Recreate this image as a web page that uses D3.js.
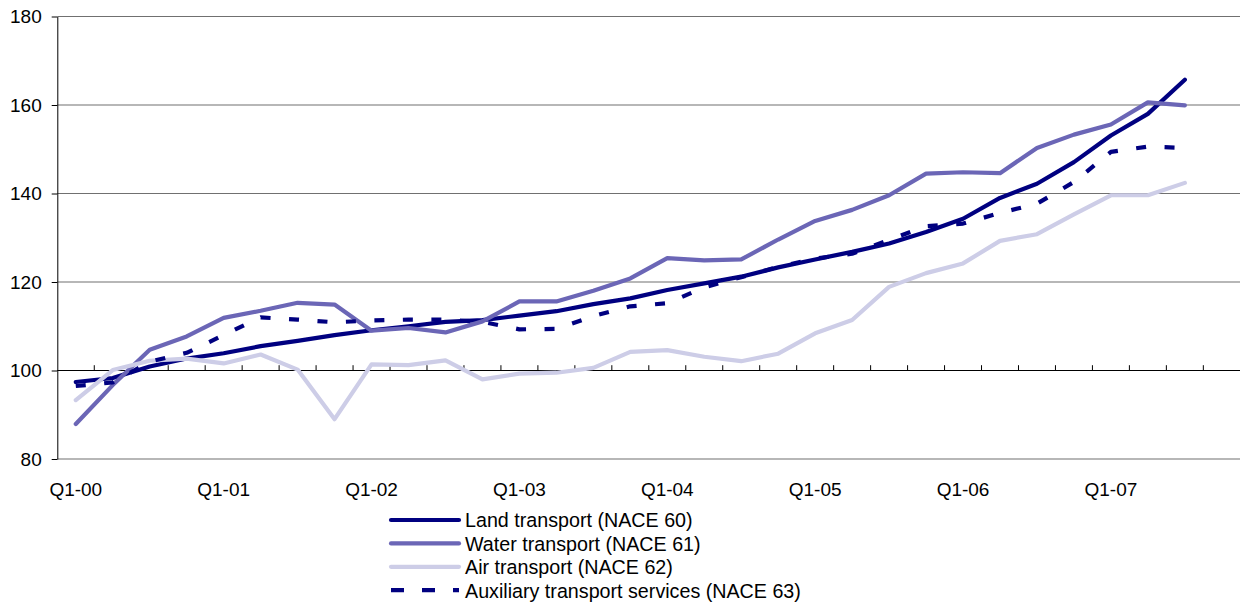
<!DOCTYPE html>
<html>
<head>
<meta charset="utf-8">
<script src="https://cdn.jsdelivr.net/npm/d3@7"></script>
<style>
  html, body { margin: 0; padding: 0; background: #fff; }
  svg { display: block; font-family: "Liberation Sans", Arial, sans-serif; }
</style>
</head>
<body>
<svg id="chart" width="1240" height="605"></svg>
<script>
// Quarterly categories (last quarter has no observation yet)
const quarters = [
  "Q1-00","Q2-00","Q3-00","Q4-00","Q1-01","Q2-01","Q3-01","Q4-01",
  "Q1-02","Q2-02","Q3-02","Q4-02","Q1-03","Q2-03","Q3-03","Q4-03",
  "Q1-04","Q2-04","Q3-04","Q4-04","Q1-05","Q2-05","Q3-05","Q4-05",
  "Q1-06","Q2-06","Q3-06","Q4-06","Q1-07","Q2-07","Q3-07","Q4-07"
];
const tickLabels = ["Q1-00","Q1-01","Q1-02","Q1-03","Q1-04","Q1-05","Q1-06","Q1-07"];
const yTicks = [80, 100, 120, 140, 160, 180];

// Index values per series, Q1-00 .. Q3-07
const landTransport = [97.4, 98.3, 100.9, 102.7, 103.9, 105.5, 106.7, 108.0, 109.1, 110.0, 111.0,
  111.4, 112.4, 113.4, 115.0, 116.3, 118.2, 119.7, 121.2, 123.3, 125.1, 126.8, 128.7, 131.3,
  134.3, 139.0, 142.2, 147.1, 153.1, 158.0, 165.7];
const waterTransport = [87.9, 96.7, 104.7, 107.7, 111.9, 113.5, 115.3, 114.9, 109.0, 109.6, 108.6,
  111.1, 115.6, 115.6, 118.0, 120.8, 125.4, 124.9, 125.1, 129.6, 133.8, 136.3, 139.6, 144.5,
  144.8, 144.6, 150.3, 153.3, 155.6, 160.6, 159.9];
const airTransport = [93.3, 100.1, 102.2, 102.7, 101.6, 103.6, 100.2, 89.0, 101.4, 101.2, 102.3,
  98.0, 99.3, 99.5, 100.6, 104.2, 104.6, 103.1, 102.1, 103.8, 108.4, 111.4, 118.9, 122.0,
  124.2, 129.3, 130.8, 135.3, 139.6, 139.6, 142.4];
const auxiliaryServices = [96.5, 97.3, 102.0, 104.0, 108.0, 112.0, 111.5, 110.9, 111.3, 111.5, 111.5,
  111.0, 109.3, 109.4, 112.3, 114.5, 115.2, 118.8, 121.1, 123.4, 125.3, 126.4, 129.5, 132.6,
  133.2, 135.6, 137.7, 142.6, 149.4, 150.6, 150.3];

const seriesNames = [
  "Land transport (NACE 60)",
  "Water transport (NACE 61)",
  "Air transport (NACE 62)",
  "Auxiliary transport services (NACE 63)"
];

const series = [
  { name: seriesNames[0], values: landTransport, color: "#000080", dash: null },
  { name: seriesNames[1], values: waterTransport, color: "#6b66b6", dash: null },
  { name: seriesNames[2], values: airTransport, color: "#cdcde7", dash: null },
  { name: seriesNames[3], values: auxiliaryServices, color: "#000080", dash: "10,18.5", legendDash: "13,18" }
];

const svg = d3.select("#chart");
const fontSize = 19;
const legendFontSize = 19.7;

const x = d3.scaleBand().domain(quarters).range([57.3, 1240.3]).padding(0);
const y = d3.scaleLinear().domain([80, 180]).range([459, 16.5]);
const cx = i => x(quarters[i]) + x.bandwidth() / 2;

// Horizontal gridlines
svg.append("g").selectAll("line").data(yTicks).join("line")
  .attr("x1", x.range()[0]).attr("x2", x.range()[1])
  .attr("y1", d => y(d)).attr("y2", d => y(d))
  .attr("stroke", "#707070").attr("stroke-width", 1.1);

// Value axis
const yAxis = svg.append("g")
  .attr("transform", `translate(${x.range()[0]},0)`)
  .call(d3.axisLeft(y).tickValues(yTicks).tickSizeInner(5.6).tickSizeOuter(0).tickPadding(10));
yAxis.select(".domain").attr("stroke", "#000");
yAxis.selectAll(".tick line").attr("stroke", "#000");
yAxis.selectAll("text").attr("font-size", fontSize).attr("fill", "#000")
  .attr("font-family", "'Liberation Sans', Arial, sans-serif");

// Category axis crossing at 100, with tick marks between quarters
const axisY = y(100);
svg.append("line")
  .attr("x1", x.range()[0]).attr("x2", x.range()[1])
  .attr("y1", axisY).attr("y2", axisY)
  .attr("stroke", "#000").attr("stroke-width", 1.1);
svg.append("g").selectAll("line").data(quarters.slice(1)).join("line")
  .attr("x1", d => x(d)).attr("x2", d => x(d))
  .attr("y1", axisY - 5.3).attr("y2", axisY)
  .attr("stroke", "#000").attr("stroke-width", 1);

// Category labels placed below the plot area
const xAxis = svg.append("g")
  .attr("transform", `translate(0,${y(80)})`)
  .call(d3.axisBottom(x).tickValues(tickLabels).tickSize(0).tickPadding(23.5));
xAxis.select(".domain").remove();
xAxis.selectAll("text").attr("font-size", fontSize).attr("fill", "#000")
  .attr("font-family", "'Liberation Sans', Arial, sans-serif");

// Series lines
const line = d3.line().x((d, i) => cx(i)).y(d => y(d));
svg.append("g").selectAll("path").data(series).join("path")
  .attr("d", d => line(d.values))
  .attr("fill", "none")
  .attr("stroke", d => d.color)
  .attr("stroke-width", 4.2)
  .attr("stroke-linejoin", "round")
  .attr("stroke-linecap", d => d.dash ? "butt" : "round")
  .attr("stroke-dasharray", d => d.dash);

// Legend
const legend = svg.append("g");
const rows = legend.selectAll("g").data(series).join("g")
  .attr("transform", (d, i) => `translate(0,${520 + i * 23.4})`);
rows.append("line")
  .attr("x1", 391).attr("x2", 459).attr("y1", 0).attr("y2", 0)
  .attr("stroke", d => d.color).attr("stroke-width", 4.2)
  .attr("stroke-linecap", d => d.dash ? "butt" : "round")
  .attr("stroke-dasharray", d => d.legendDash || null);
rows.append("text")
  .attr("x", 465).attr("y", 7.3)
  .attr("font-size", legendFontSize).attr("fill", "#000")
  .text(d => d.name);
</script>
</body>
</html>
